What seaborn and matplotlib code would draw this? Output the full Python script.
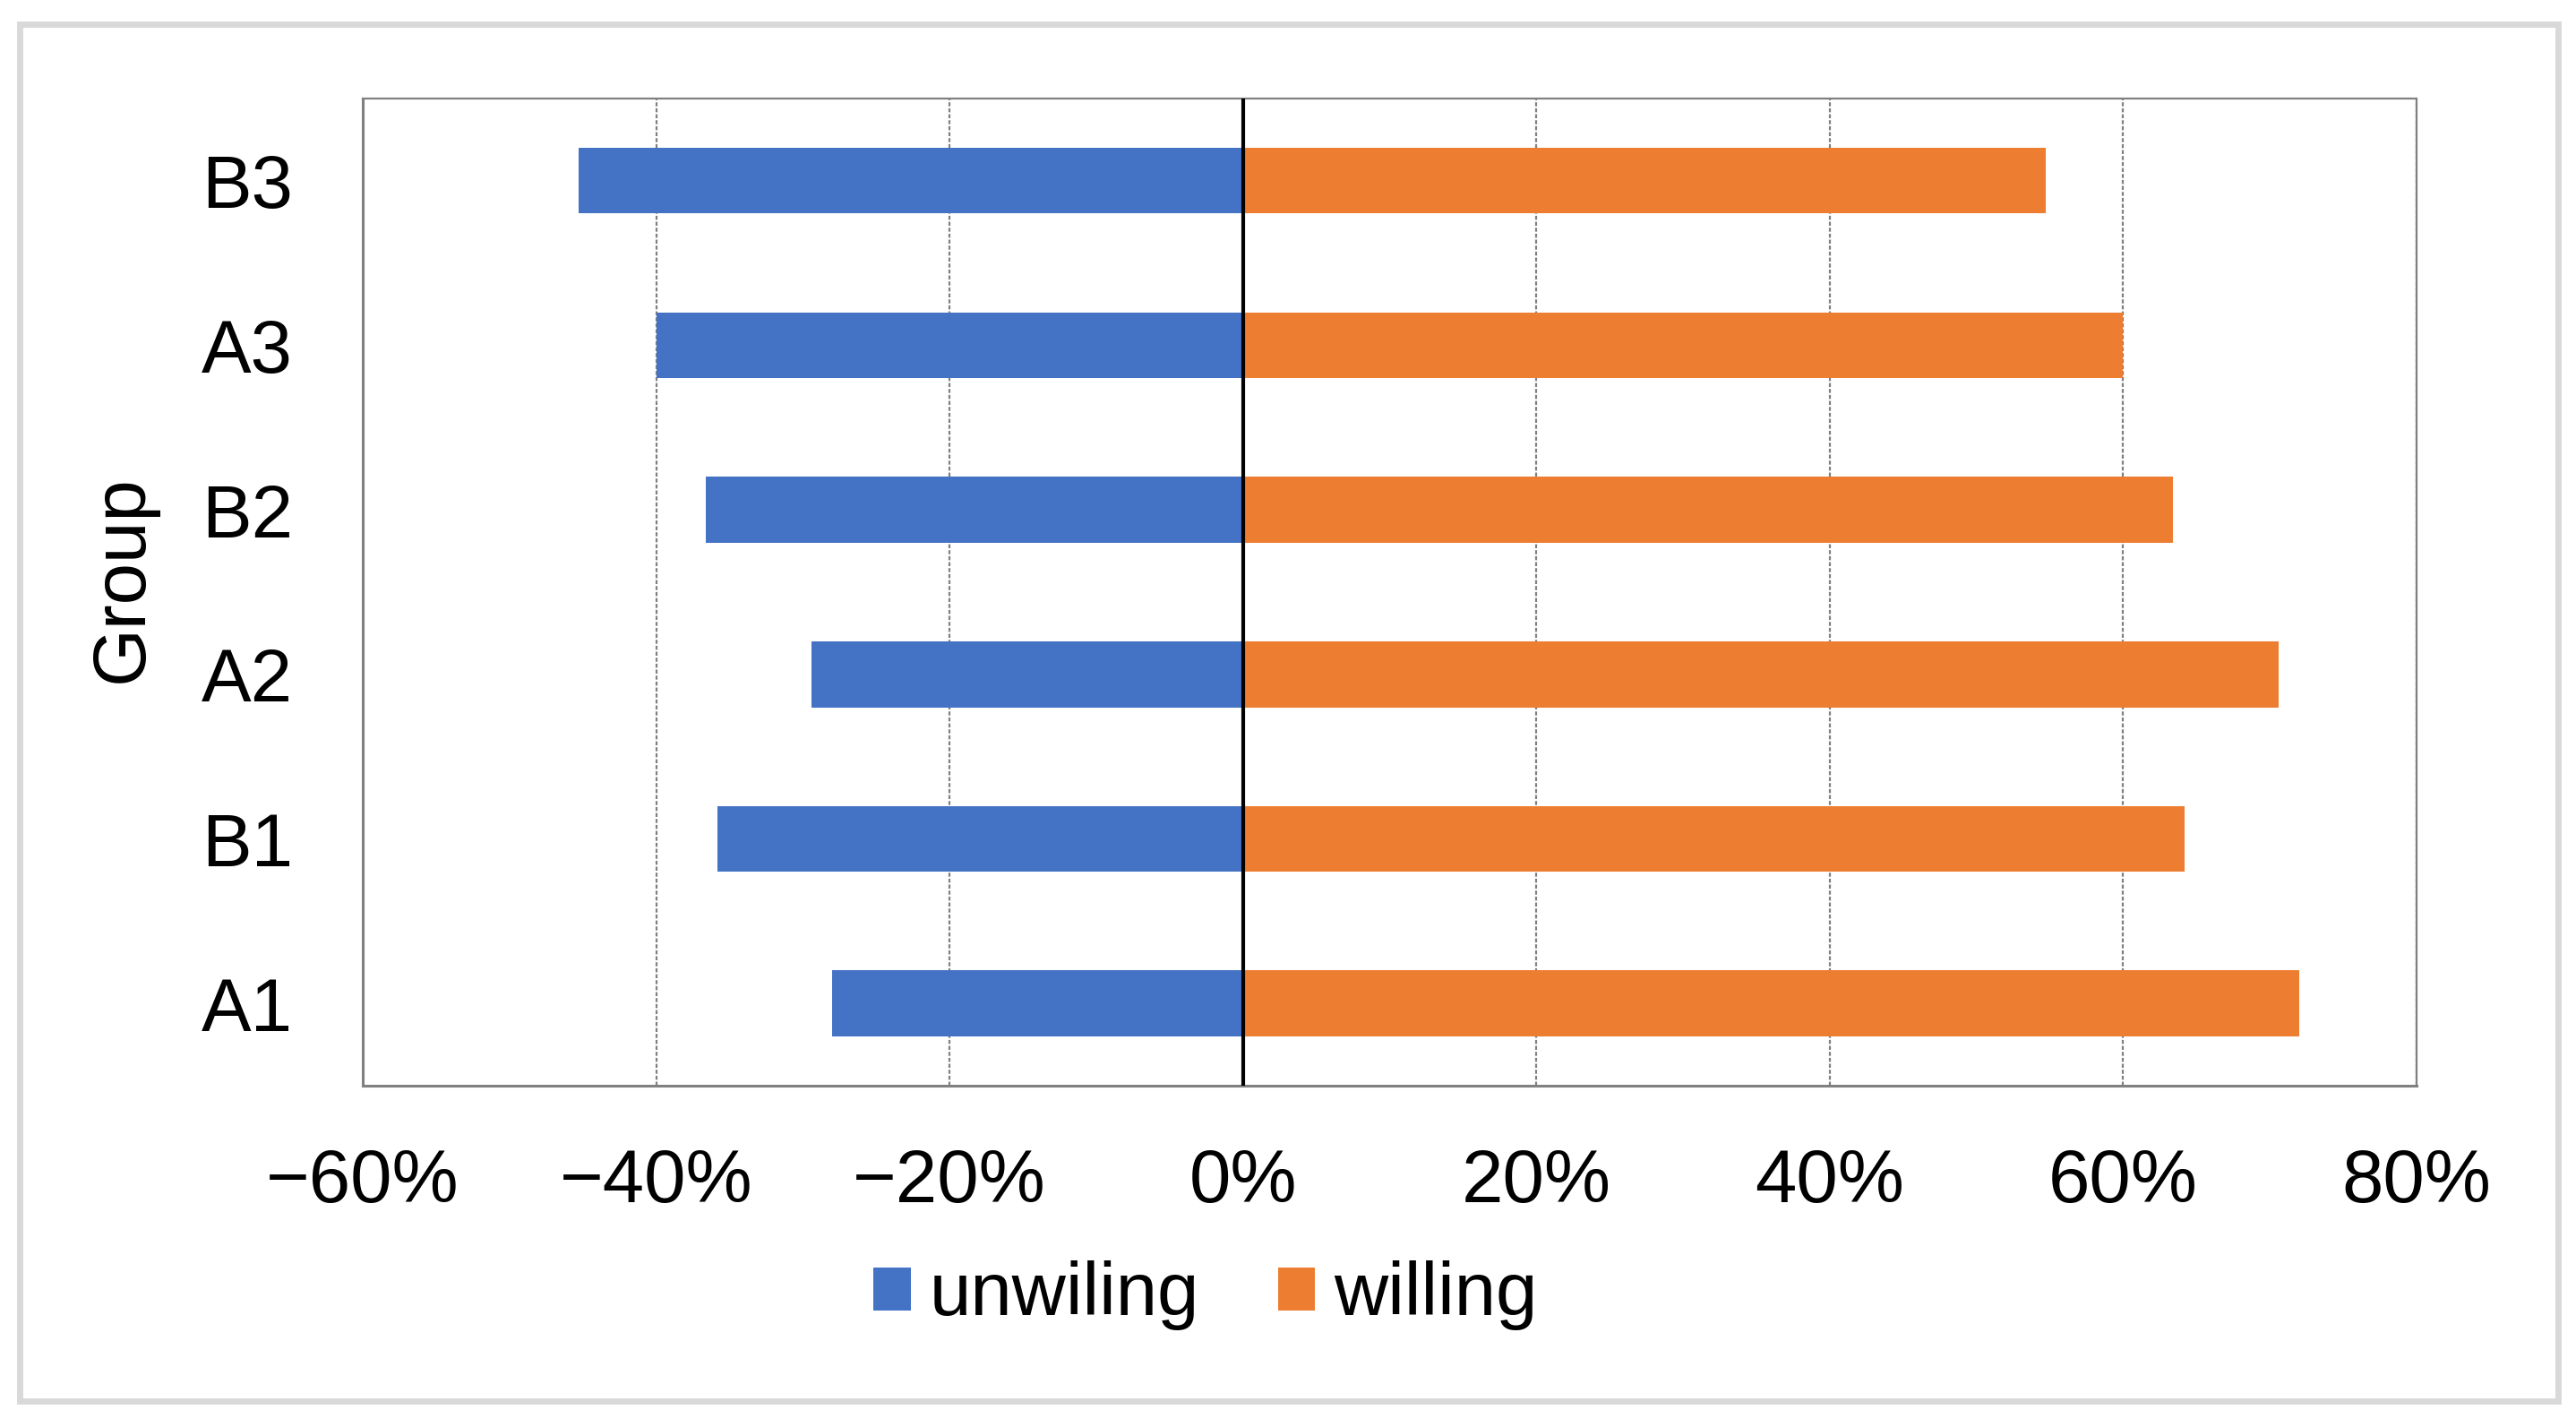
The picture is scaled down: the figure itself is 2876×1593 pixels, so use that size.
import matplotlib
matplotlib.use("Agg")
import matplotlib.pyplot as plt
from matplotlib.patches import Patch, Rectangle
from matplotlib.ticker import FuncFormatter, MultipleLocator
import pandas as pd
import seaborn as sns

groups = ["A1", "B1", "A2", "B2", "A3", "B3"]
unwilling = [-28.0, -35.8, -29.4, -36.6, -40.0, -45.3]
willing = [72.0, 64.2, 70.6, 63.4, 60.0, 54.7]
series = ["unwiling", "willing"]
colors = ["#4472C4", "#ED7D31"]

sns.set_theme(style="white")
plt.rcParams["font.family"] = ["Liberation Sans", "DejaVu Sans"]

df = pd.DataFrame({
    "group": groups * 2,
    "value": unwilling + willing,
    "response": [series[0]] * len(groups) + [series[1]] * len(groups),
})

fig, ax = plt.subplots(figsize=(28.76, 15.93), dpi=100)
fig.subplots_adjust(left=0.1408, right=0.9381, top=0.931, bottom=0.2392)

sns.barplot(data=df, y="group", x="value", hue="response", order=groups[::-1],
            hue_order=series, palette=colors, dodge=False, width=0.4,
            orient="h", linewidth=0, saturation=1, ax=ax)

ax.set_xlim(-60, 80)
ax.set_ylim(5.5, -0.5)
ax.xaxis.set_major_locator(MultipleLocator(20))
ax.xaxis.set_major_formatter(FuncFormatter(lambda v, _: f"{v:.0f}%".replace("-", "\u2212")))

ax.set_axisbelow(True)
ax.grid(axis="x", linestyle=(0, (2, 1)), color="#808080", linewidth=1.6)
ax.grid(axis="y", visible=False)
ax.axvline(0, color="black", linewidth=3, zorder=5)

for side in ["left", "bottom"]:
    ax.spines[side].set_color("#808080")
    ax.spines[side].set_linewidth(2.2)
for side in ["top", "right"]:
    ax.spines[side].set_color("#808080")
    ax.spines[side].set_linewidth(1.6)
    ax.spines[side].set_linestyle((0, (2, 1)))

ax.tick_params(axis="both", length=0, labelsize=60, colors="black")
ax.tick_params(axis="y", pad=56)
ax.tick_params(axis="x", pad=50)

ax.set_xlabel("")
ax.set_ylabel("Group", fontsize=60, color="black")
ax.yaxis.set_label_coords(-0.1, 0.513)

ax.get_legend().remove()
handles = [Patch(facecolor=c, edgecolor="none") for c in colors]
fig.legend(handles, series, loc="center", bbox_to_anchor=(0.468, 0.092), ncol=2,
           frameon=False, fontsize=60, labelcolor="black", handlelength=0.5,
           handleheight=0.5, handletextpad=0.25, columnspacing=1.05)

# light frame around the whole chart
fig.patches.append(Rectangle((22 / 2876, 1 - 1564 / 1593), 2834 / 2876, 1537 / 1593,
                             transform=fig.transFigure, fill=False,
                             edgecolor="#D9D9D9", linewidth=5))

fig.savefig("out.png", dpi=100)
